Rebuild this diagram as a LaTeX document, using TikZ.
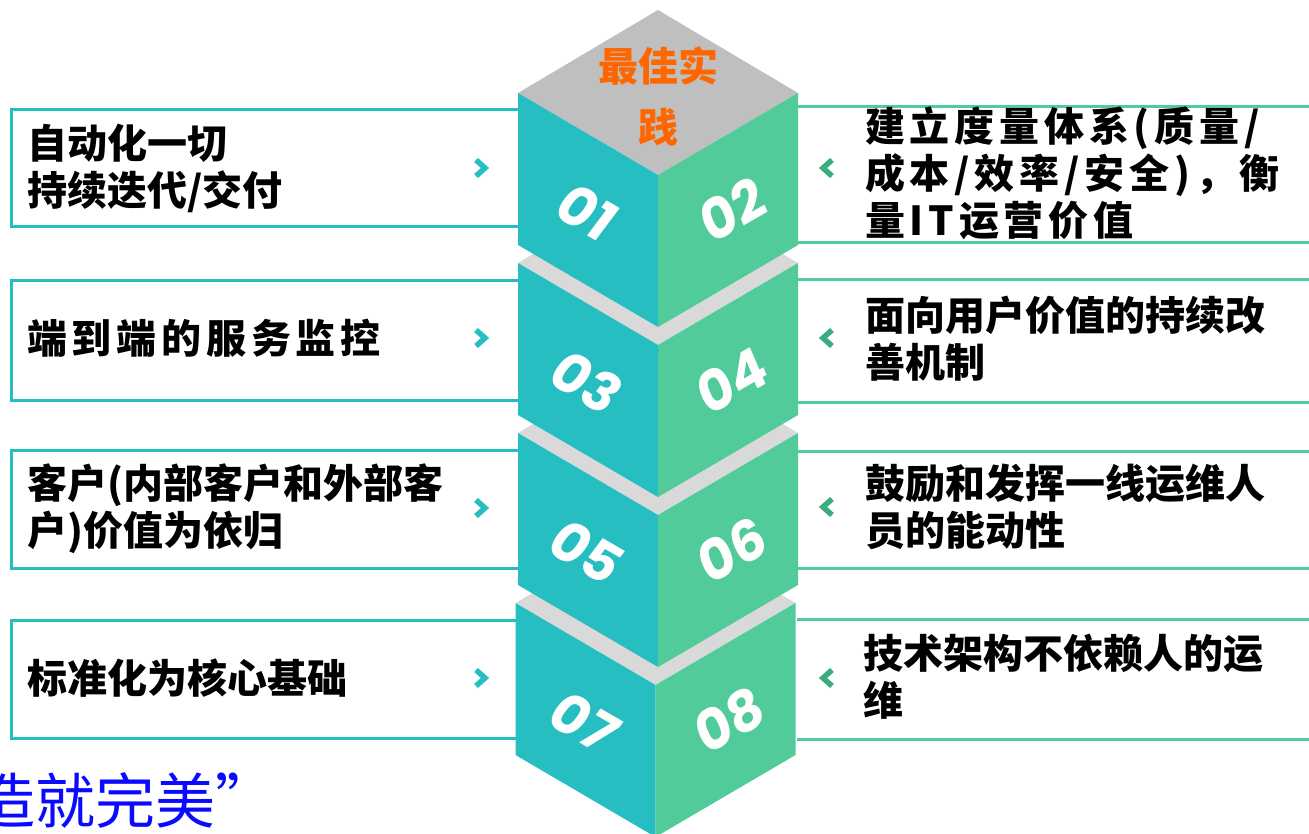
\documentclass[tikz,border=0pt]{standalone}
\usepackage{fontspec}
\setmainfont{Liberation Sans}
\newfontfamily\cjk{Noto Sans CJK SC}
\newfontfamily\cjkls{Noto Sans CJK SC}[LetterSpace=12]
\newfontfamily\numfont{Poppins}[FakeSlant=0.12]
\definecolor{cteal}{RGB}{39,190,194}
\definecolor{cgreen}{RGB}{80,203,153}
\definecolor{cchev}{RGB}{58,172,128}
\definecolor{ctopA}{RGB}{191,191,191}
\definecolor{ctopB}{RGB}{217,217,217}
\definecolor{corange}{RGB}{255,102,0}
\definecolor{cblue}{RGB}{10,10,255}
\begin{document}
\begin{tikzpicture}[x=1pt,y=-1pt,
  lbox/.style={draw=cteal,line width=3pt},
  rbox/.style={draw=cgreen,line width=3pt},
  txt/.style={anchor=west,inner sep=0pt,align=left,font=\cjk\bfseries\fontsize{40}{47}\selectfont},
  txtls/.style={anchor=west,inner sep=0pt,align=left,font=\cjkls\bfseries\fontsize{40}{47}\selectfont},
  num/.style={inner sep=0pt,text=white,font=\numfont\bfseries\fontsize{55}{55}\selectfont},
  chevl/.style={draw=cteal,line width=5.5pt,miter limit=10},
  chevr/.style={draw=cchev,line width=5.5pt,miter limit=10}]
\useasboundingbox (0,0) rectangle (1309,834);
\begin{scope}
\clip (0,0) rectangle (1309,834);
% left boxes
\foreach \ya/\yb in {110/227,281/400,450/568,620/738}{
  \draw[lbox] (519,\ya) -- (11,\ya) -- (11,\yb) -- (519,\yb);
}
% right boxes
\foreach \ya/\yb in {107/243,280/402,451/568,619/739}{
  \draw[rbox] (797,\ya) -- (1312,\ya);
  \draw[rbox] (797,\yb) -- (1312,\yb);
}
% cubes, bottom first
\foreach \k/\dx/\tc in {3/-2.5/ctopB,2/0/ctopB,1/0/ctopB,0/0/ctopA}{
  \pgfmathsetmacro\xx{518+\dx}
  \pgfmathsetmacro\yy{93+170*\k}
  \pgfmathtruncatemacro\na{2*\k+1}
  \pgfmathtruncatemacro\nb{2*\k+2}
  \fill[\tc] (\xx,\yy) -- ({\xx+140},{\yy-83}) -- ({\xx+280},\yy) -- ({\xx+140},{\yy+82}) -- cycle;
  \fill[cteal] (\xx,\yy) -- ({\xx+140},{\yy+82}) -- ({\xx+140},{\yy+234}) -- (\xx,{\yy+152}) -- cycle;
  \fill[cgreen] ({\xx+140},{\yy+82}) -- ({\xx+280},\yy) -- ({\xx+280},{\yy+152}) -- ({\xx+140},{\yy+234}) -- cycle;
  \node[num,rotate=-30] (n\na) at ({\xx+67},{\yy+118}) {0\na};
  \node[num,rotate=30] (n\nb) at ({\xx+212},{\yy+118}) {0\nb};
}
\node[inner sep=0pt,align=center,text=corange,font=\cjk\bfseries\fontsize{40}{61}\selectfont] (top) at (658,96) {最佳实\\践};
% left texts
\node[txt] (l1) at (27,168) {自动化一切\\持续迭代/交付};
\node[txtls] (l2) at (27,338) {端到端的服务监控};
\node[txt] (l3) at (27,509) {客户(内部客户和外部客\\户)价值为依归};
\node[txt] (l4) at (27,678) {标准化为核心基础};
% right texts
\node[txtls] (r1) at (865,173) {建立度量体系(质量/\\成本/效率/安全)，衡\\量IT运营价值};
\node[txt] (r2) at (865,339) {面向用户价值的持续改\\善机制};
\node[txt] (r3) at (865,507) {鼓励和发挥一线运维人\\员的能动性};
\node[txt] (r4) at (863,677) {技术架构不依赖人的运\\维};
% chevrons
\foreach \yc in {168,338,508,678}{
  \draw[chevl] (476,{\yc-8}) -- (485,\yc) -- (476,{\yc+8});
}
\foreach \yc in {168,338,507,678}{
  \draw[chevr] (832,{\yc-8}) -- (823,\yc) -- (832,{\yc+8});
}
% bottom quote
\node[anchor=west,inner sep=0pt,text=cblue,font=\cjk\fontsize{60}{60}\selectfont] (q) at (-25,800) {造就完美”};
\end{scope}
\end{tikzpicture}
\end{document}
